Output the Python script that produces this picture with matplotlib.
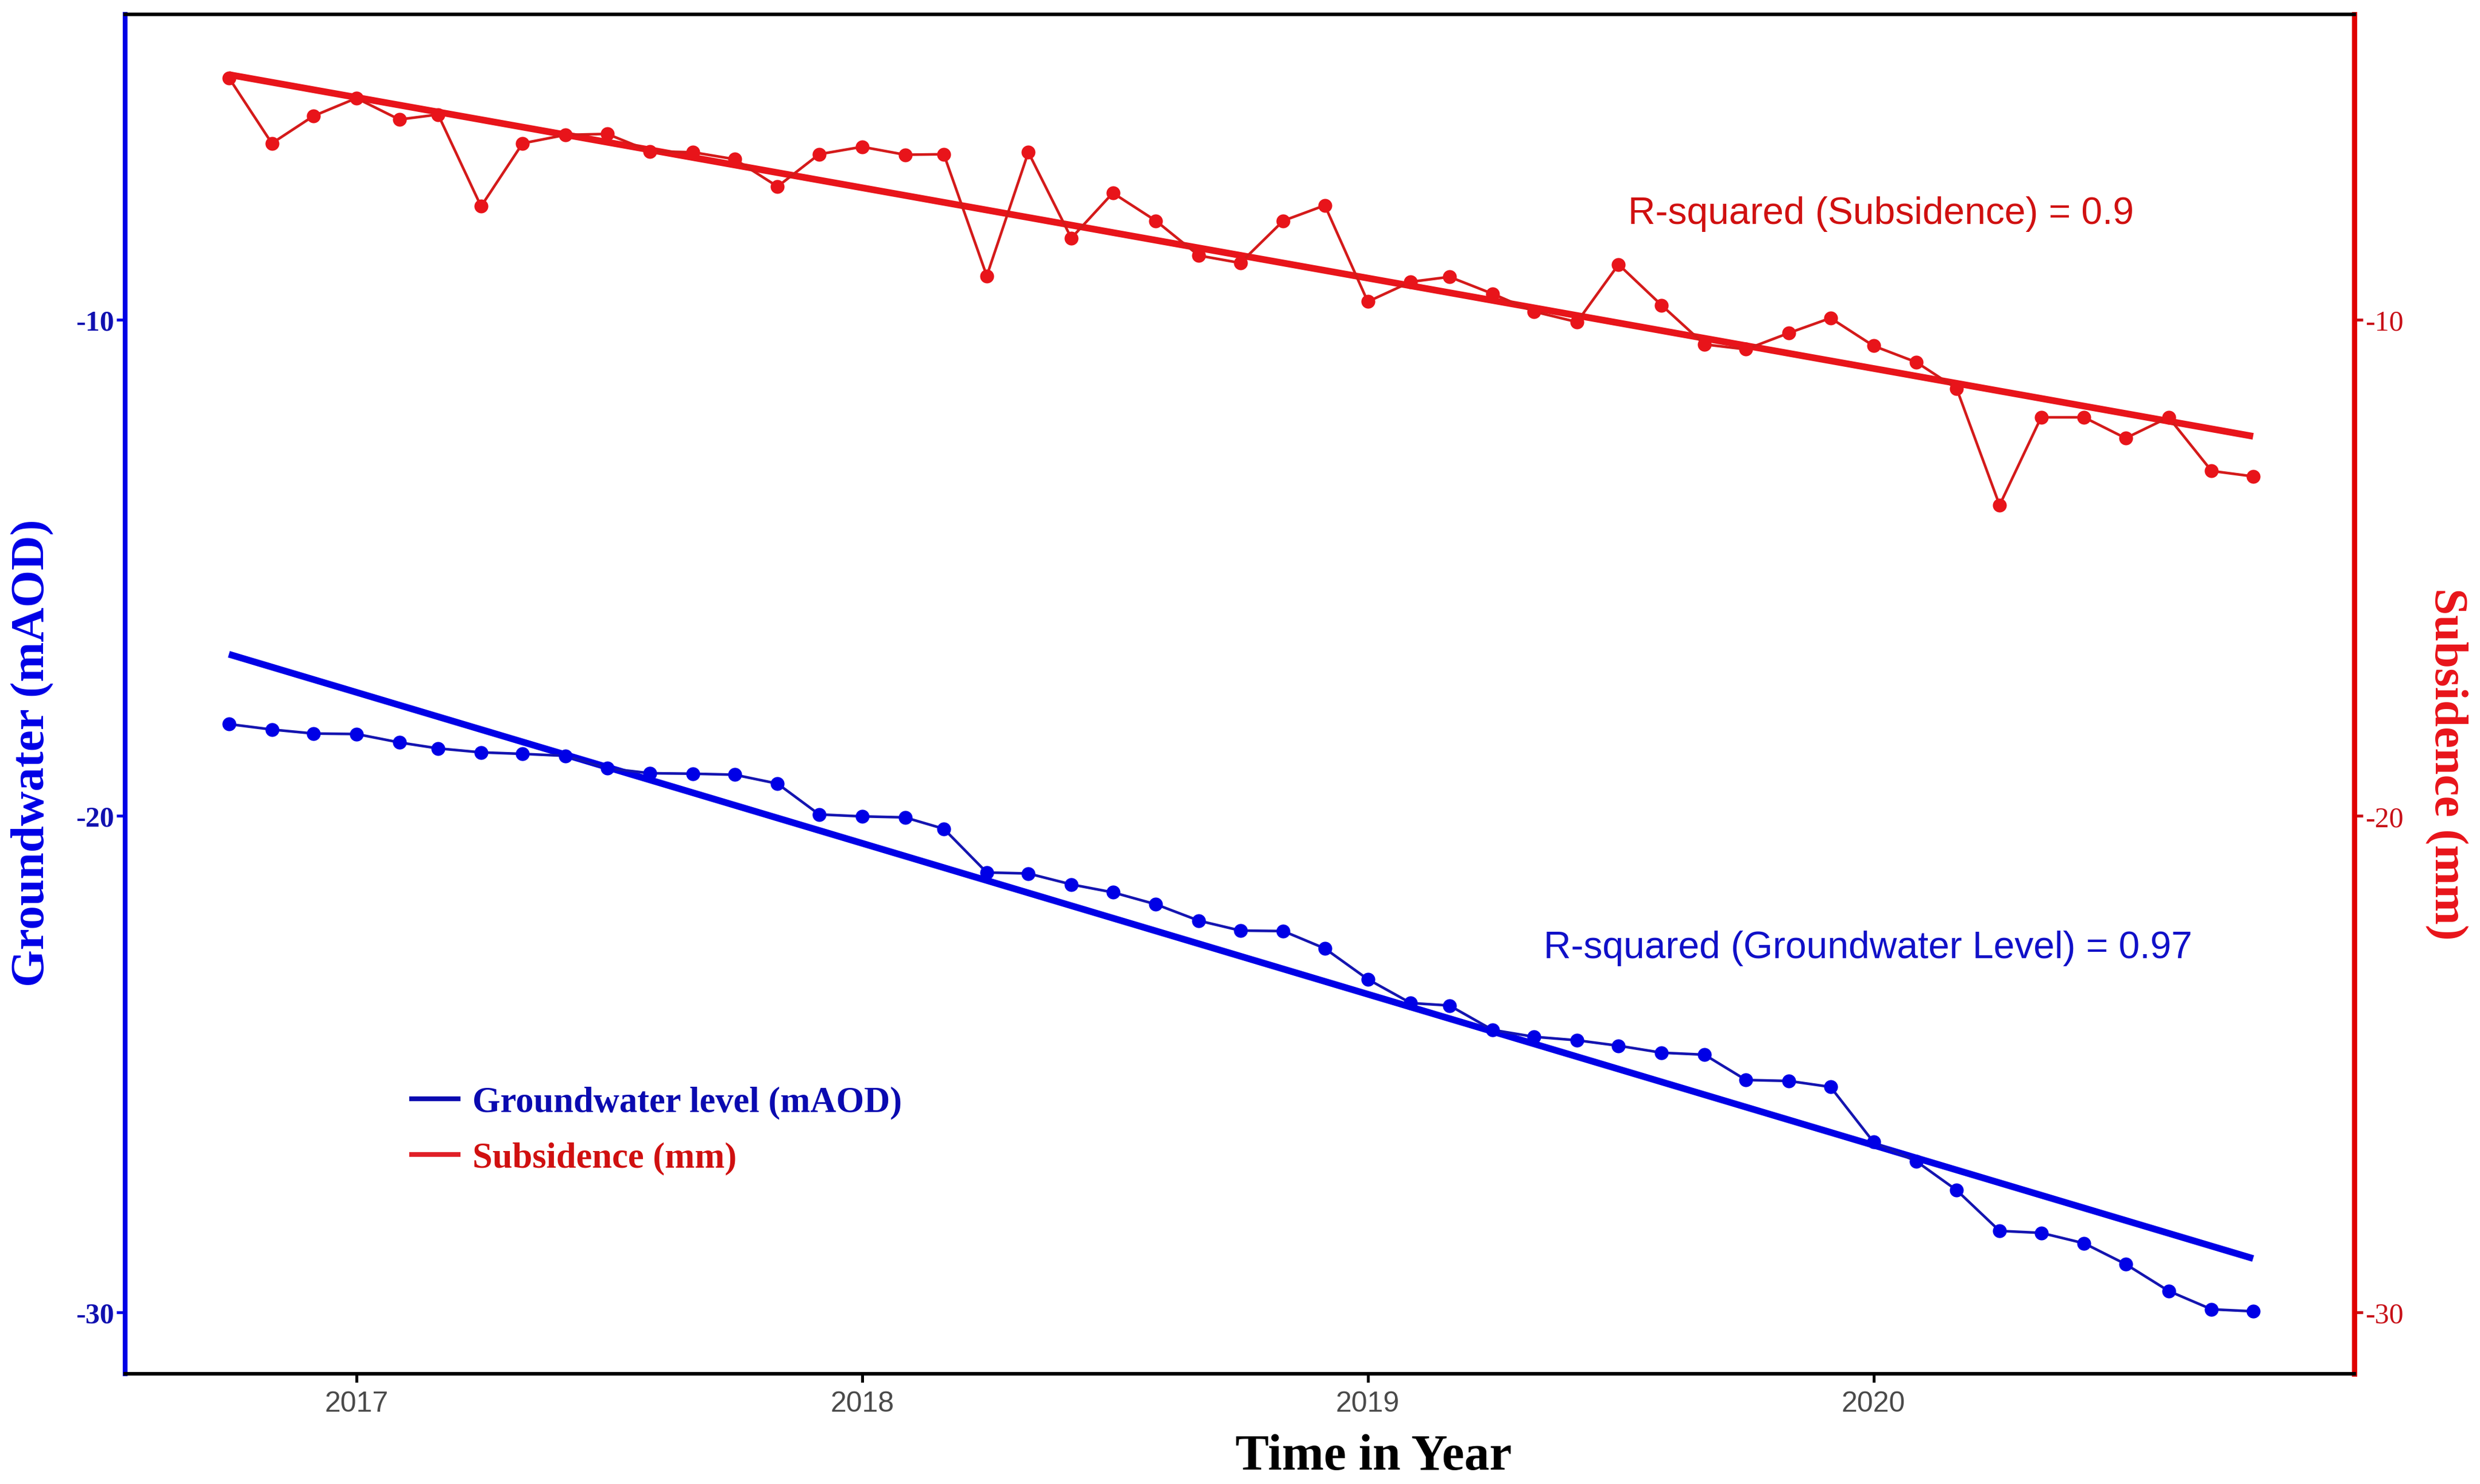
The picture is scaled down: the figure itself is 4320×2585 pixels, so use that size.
import pandas as pd
import numpy as np
import matplotlib.pyplot as plt
import matplotlib.dates as mdates
from matplotlib.lines import Line2D

plt.rcParams["axes.unicode_minus"] = False

months = pd.date_range("2016-10-01", periods=49, freq="MS")

groundwater = [
    -18.15, -18.26, -18.34, -18.35, -18.52, -18.64, -18.72, -18.75, -18.79, -19.04,
    -19.14, -19.15, -19.17, -19.35, -19.97, -20.01, -20.03, -20.26, -21.14, -21.16,
    -21.38, -21.54, -21.78, -22.11, -22.31, -22.32, -22.67, -23.29, -23.77, -23.82,
    -24.31, -24.45, -24.52, -24.63, -24.77, -24.81, -25.32, -25.34, -25.46, -26.57,
    -26.96, -27.54, -28.36, -28.40, -28.61, -29.03, -29.57, -29.94, -29.98,
]

subsidence = [
    -5.13, -6.45, -5.90, -5.54, -5.97, -5.87, -7.72, -6.45, -6.28, -6.26,
    -6.61, -6.63, -6.77, -7.32, -6.67, -6.52, -6.68, -6.67, -9.12, -6.63,
    -8.36, -7.45, -8.01, -8.71, -8.86, -8.01, -7.70, -9.64, -9.24, -9.14,
    -9.48, -9.84, -10.05, -8.89, -9.71, -10.50, -10.60, -10.27, -9.97, -10.53,
    -10.86, -11.39, -13.74, -11.97, -11.97, -12.39, -11.97, -13.05, -13.16,
]

y_ticks = [-10, -20, -30]
r2_sub = "R-squared (Subsidence) = 0.9"
r2_gw = "R-squared (Groundwater Level) = 0.97"

blue = "#0000E6"
blue_dark = "#1414B0"
red = "#E8141A"

serif = "Liberation Serif"
sans = "Liberation Sans"

x = mdates.date2num(months)
gw_fit = np.polyval(np.polyfit(x, groundwater, 1), x)
sub_fit = np.polyval(np.polyfit(x, subsidence, 1), x)

fig = plt.figure(figsize=(14.4, 8.62), dpi=300)
ax = fig.add_axes([0.0504, 0.0742, 0.8989, 0.9158])
ax2 = ax.twinx()

ax.plot(months, groundwater, color=blue_dark, lw=1.1,
        marker="o", ms=4.8, mfc=blue, mec=blue, zorder=3)
ax.plot([months[0], months[-1]], [gw_fit[0], gw_fit[-1]],
        color=blue, lw=2.8, solid_capstyle="butt", zorder=2)

ax2.plot(months, subsidence, color="#D41A1A", lw=1.1,
         marker="o", ms=4.8, mfc=red, mec=red, zorder=3)
ax2.plot([months[0], months[-1]], [sub_fit[0], sub_fit[-1]],
         color=red, lw=2.8, solid_capstyle="butt", zorder=2)

ylim = (-31.24, -3.85)
ax.set_ylim(ylim)
ax2.set_ylim(ylim)
ax.set_xlim(pd.Timestamp("2016-07-18"), pd.Timestamp("2020-12-13"))

ax.xaxis.set_major_locator(mdates.YearLocator())
ax.xaxis.set_major_formatter(mdates.DateFormatter("%Y"))

ax.set_yticks(y_ticks)
ax2.set_yticks(y_ticks)

for lab in ax.get_yticklabels():
    lab.set_fontfamily(serif)
    lab.set_fontweight("bold")
ax.tick_params(axis="y", colors="#1010B0", labelsize=12, length=3.5, width=1.2, pad=1)
ax.tick_params(axis="y", which="both", color=blue)
ax2.tick_params(axis="y", colors="#C81018", labelsize=12, length=3.5, width=1.2, pad=1)
for lab in ax2.get_yticklabels():
    lab.set_fontfamily(serif)

ax.tick_params(axis="x", colors="black", labelcolor="#4A4A4A",
               labelsize=12, length=3.6, width=1.2, pad=3.4)
for lab in ax.get_xticklabels():
    lab.set_fontfamily(sans)

for s in ["left", "right", "top", "bottom"]:
    ax.spines[s].set_visible(False)
ax2.spines["left"].set_color(blue)
ax2.spines["left"].set_linewidth(2.0)
ax2.spines["right"].set_color("#E00000")
ax2.spines["right"].set_linewidth(2.2)
ax2.spines["top"].set_color("black")
ax2.spines["top"].set_linewidth(1.5)
ax2.spines["bottom"].set_color("black")
ax2.spines["bottom"].set_linewidth(1.5)

ax.set_ylabel("Groundwater (mAOD)", color=blue, fontsize=20,
              fontweight="bold", fontfamily=serif)
ax.yaxis.set_label_coords(-0.0318, 0.457)

ax2.set_ylabel("Subsidence (mm)", color=red, fontsize=20,
               fontweight="bold", fontfamily=serif, rotation=270, va="bottom")
ax2.yaxis.set_label_coords(1.0315, 0.449)

ax.set_xlabel("Time in Year", fontsize=21, fontweight="bold",
              fontfamily=serif, color="black")
ax.xaxis.set_label_coords(0.56, -0.044)

ax2.text(pd.Timestamp("2019-07-08"), -7.87, r2_sub, color="#D01010",
         fontsize=15.8, fontfamily=sans, va="center", ha="left")
ax2.text(pd.Timestamp("2019-05-08"), -22.66, r2_gw, color="#1010C8",
         fontsize=15.8, fontfamily=sans, va="center", ha="left")

handles = [
    Line2D([], [], color="#0A0AB0", lw=2),
    Line2D([], [], color="#E02028", lw=2),
]
leg = ax2.legend(handles, ["Groundwater level (mAOD)", "Subsidence (mm)"],
                 loc="center left", bbox_to_anchor=(0.114, 0.179),
                 frameon=False, handlelength=1.3, handletextpad=0.4,
                 labelspacing=0.62, labelcolor=["#0A0AB0", "#D01010"],
                 prop={"family": serif, "weight": "bold", "size": 15})

fig.savefig("out.png", dpi=300, facecolor="white")
